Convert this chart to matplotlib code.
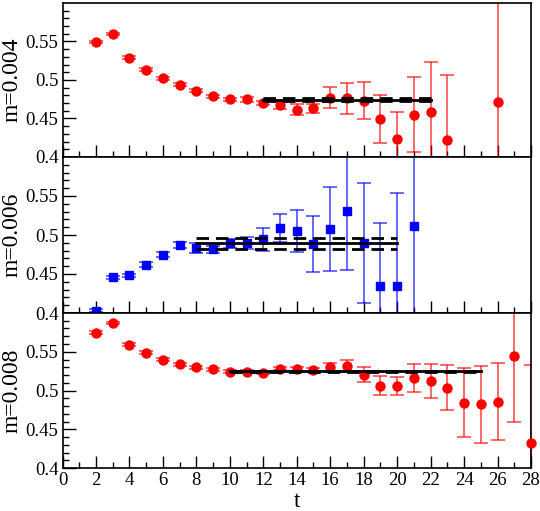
import matplotlib
matplotlib.use('Agg')
import matplotlib.pyplot as plt
import numpy as np

plt.rcParams['font.family'] = ['Liberation Serif', 'DejaVu Serif']

# m=0.004
t1 = np.array([2, 3, 4, 5, 6, 7, 8, 9, 10, 11, 12, 13, 14, 15, 16, 17, 18, 19, 20, 21, 22, 23, 26])
y1 = np.array([0.549, 0.5595, 0.529, 0.5135, 0.5025, 0.494, 0.486, 0.479, 0.475, 0.475,
               0.470, 0.467, 0.4615, 0.463, 0.477, 0.476, 0.473, 0.449, 0.424, 0.455,
               0.458, 0.4225, 0.472])
e1 = np.array([0.0015, 0.0015, 0.002, 0.002, 0.002, 0.002, 0.002, 0.002, 0.002, 0.003,
               0.003, 0.005, 0.0075, 0.006, 0.0135, 0.02, 0.024, 0.031, 0.034, 0.049,
               0.066, 0.084, 0.15])
fit1 = (12, 22, 0.4745, 0.0015)

# m=0.006
t2 = np.array([2, 3, 4, 5, 6, 7, 8, 9, 10, 11, 12, 13, 14, 15, 16, 17, 18, 19, 20, 21])
y2 = np.array([0.403, 0.446, 0.4485, 0.462, 0.475, 0.487, 0.4835, 0.4815, 0.4895, 0.4895,
               0.4945, 0.509, 0.5055, 0.4885, 0.508, 0.531, 0.4895, 0.435, 0.435, 0.511])
e2 = np.array([0.002, 0.002, 0.002, 0.003, 0.003, 0.004, 0.006, 0.0045, 0.006, 0.008,
               0.015, 0.0175, 0.027, 0.036, 0.054, 0.076, 0.077, 0.081, 0.119, 0.13])
fit2 = (8, 20, 0.4895, 0.007)

# m=0.008
t3 = np.array([2, 3, 4, 5, 6, 7, 8, 9, 10, 11, 12, 13, 14, 15, 16, 17, 18, 19, 20, 21,
               22, 23, 24, 25, 26, 27, 28])
y3 = np.array([0.5747, 0.587, 0.5592, 0.549, 0.540, 0.534, 0.5297, 0.5275, 0.5245, 0.524,
               0.5232, 0.528, 0.5275, 0.5266, 0.5297, 0.5313, 0.5206, 0.5064, 0.5056,
               0.516, 0.512, 0.5034, 0.4845, 0.482, 0.4855, 0.545, 0.4326])
e3 = np.array([0.0015, 0.0015, 0.002, 0.002, 0.002, 0.002, 0.002, 0.002, 0.002, 0.002,
               0.002, 0.002, 0.003, 0.003, 0.006, 0.008, 0.01, 0.012, 0.012, 0.018,
               0.022, 0.029, 0.044, 0.05, 0.05, 0.085, 0.1])
fit3 = (10, 25, 0.5249, 0.0008)

labels = ['m=0.004', 'm=0.006', 'm=0.008']

fig = plt.figure(figsize=(5.4, 5.11), dpi=100)
left, right = 62.5 / 540, 531 / 540
bottoms = [1 - 157 / 511, 1 - 313 / 511, 1 - 468 / 511]
tops = [1 - 3 / 511, 1 - 157 / 511, 1 - 313 / 511]

data = [(t1, y1, e1, fit1, 'red', 'o', 9),
        (t2, y2, e2, fit2, 'blue', 's', 7.5),
        (t3, y3, e3, fit3, 'red', 'o', 9)]

for i, (t, y, e, fit, col, mk, ms) in enumerate(data):
    ax = fig.add_axes([left, bottoms[i], right - left, tops[i] - bottoms[i]])
    ax.errorbar(t, y, yerr=e, fmt='none', ecolor=col, elinewidth=1.1, capsize=5,
                capthick=1.1, alpha=0.75, zorder=2)
    ax.plot(t, y, ls='none', marker=mk, color=col, markersize=ms * 0.72, zorder=3,
            clip_on=False)
    t0, t1_, c, d = fit
    ax.plot([t0, t1_], [c, c], color='black', lw=2, zorder=4)
    ax.plot([t0, t1_], [c + d, c + d], color='black', lw=2, ls=(0, (4.5, 2.5)), zorder=4)
    ax.plot([t0, t1_], [c - d, c - d], color='black', lw=2, ls=(0, (4.5, 2.5)), zorder=4)
    ax.set_xlim(0, 28)
    ax.set_ylim(0.4, 0.6)
    ax.set_yticks([0.4, 0.45, 0.5, 0.55])
    ax.set_yticklabels(['0.4', '0.45', '0.5', '0.55'])
    ax.set_yticks(np.arange(0.41, 0.6, 0.01), minor=True)
    ax.set_xticks(np.arange(0, 29, 2))
    ax.set_xticks(np.arange(1, 28, 2), minor=True)
    ax.tick_params(which='both', direction='in', top=False, right=False, labelsize=13.5,
                   width=1)
    ax.tick_params(which='major', length=9, pad=3)
    ax.tick_params(which='minor', length=4.5)
    ax.set_ylabel(labels[i], fontsize=17, labelpad=2)
    if i < 2:
        ax.set_xticklabels([])
    else:
        ax.set_xlabel('t', fontsize=17, labelpad=1)
    for s in ax.spines.values():
        s.set_linewidth(1.2)

fig.savefig('out.png', dpi=100)
